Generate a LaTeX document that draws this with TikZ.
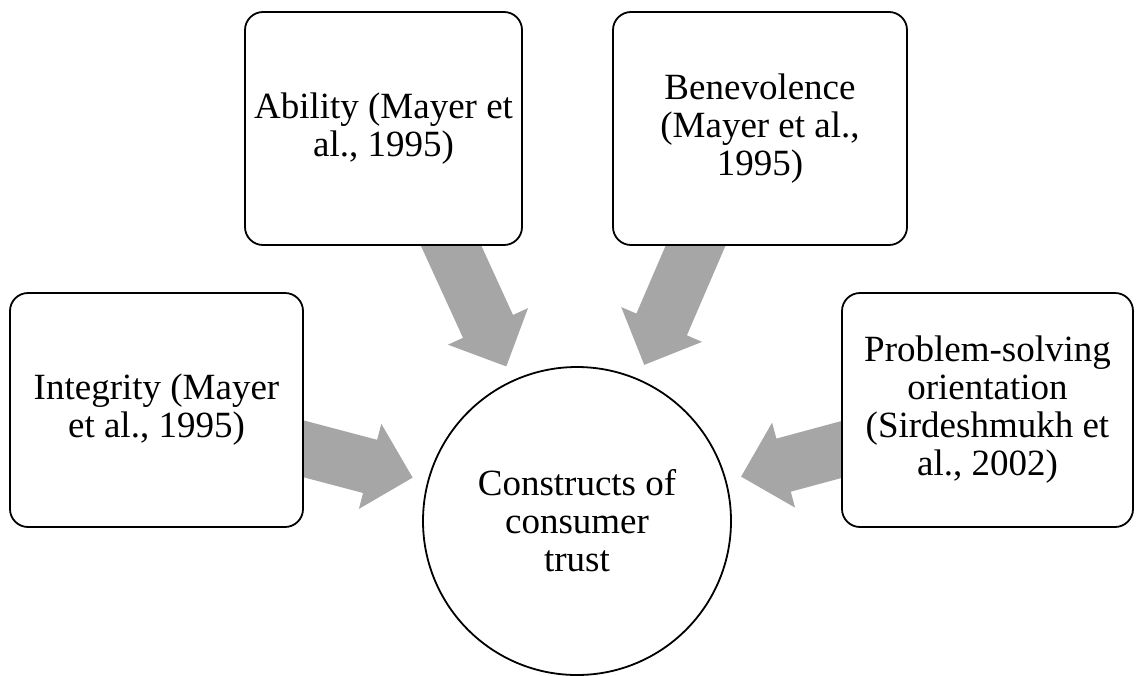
\documentclass[tikz,border=0pt]{standalone}
\usepackage{fontspec}
\setmainfont{Liberation Serif}
\usetikzlibrary{calc,backgrounds}
\definecolor{arrowgrey}{RGB}{166,166,166}

% Wide block arrow from a box (centre shifted by #3) towards the central circle
\newcommand\blockarrow[3]{%
  \coordinate (S) at ($(#1.center)+(#3)$);
  \coordinate (T) at ($(#2.center)!170pt!(S)$);
  \coordinate (H) at ($(T)!44pt!(S)$);
  \fill[arrowgrey]
    ($(S)!27.5pt!90:(T)$) -- ($(H)!27.5pt!90:(T)$) -- ($(H)!44pt!90:(T)$) --
    (T) --
    ($(H)!44pt!-90:(T)$) -- ($(H)!27.5pt!-90:(T)$) -- ($(S)!27.5pt!-90:(T)$) -- cycle;
}

\begin{document}
\begin{tikzpicture}[x=1pt,y=-1pt,
  every node/.style={font=\fontsize{37}{38}\selectfont, align=center, inner sep=0pt},
  box/.style={draw=black, line width=1.8pt, fill=white, rounded corners=18pt},
  hub/.style={draw=black, line width=1.8pt, fill=white, circle, minimum size=308pt}]
\useasboundingbox (0,0) rectangle (1139,675);

\node[box, minimum width=277pt, minimum height=233pt] (ability) at (383.5,128.5)
  {Ability (Mayer et\\al., 1995)};
\node[box, minimum width=294pt, minimum height=233pt] (benevolence) at (760,128.5)
  {Benevolence\\(Mayer et al.,\\1995)};
\node[box, minimum width=293pt, minimum height=234pt] (integrity) at (156.5,410)
  {Integrity (Mayer\\et al., 1995)};
\node[box, minimum width=291pt, minimum height=234pt] (problem) at (987.5,410)
  {Problem-solving\\orientation\\(Sirdeshmukh et\\al., 2002)};
\node[hub] (trust) at (577,521) {Constructs of\\consumer\\trust};

\begin{scope}[on background layer]
  \fill[white] (0,0) rectangle (1139,675);
  \blockarrow{ability}{trust}{14,0}
  \blockarrow{benevolence}{trust}{-14,0}
  \blockarrow{integrity}{trust}{0,0}
  \blockarrow{problem}{trust}{0,0}
\end{scope}
\end{tikzpicture}
\end{document}
